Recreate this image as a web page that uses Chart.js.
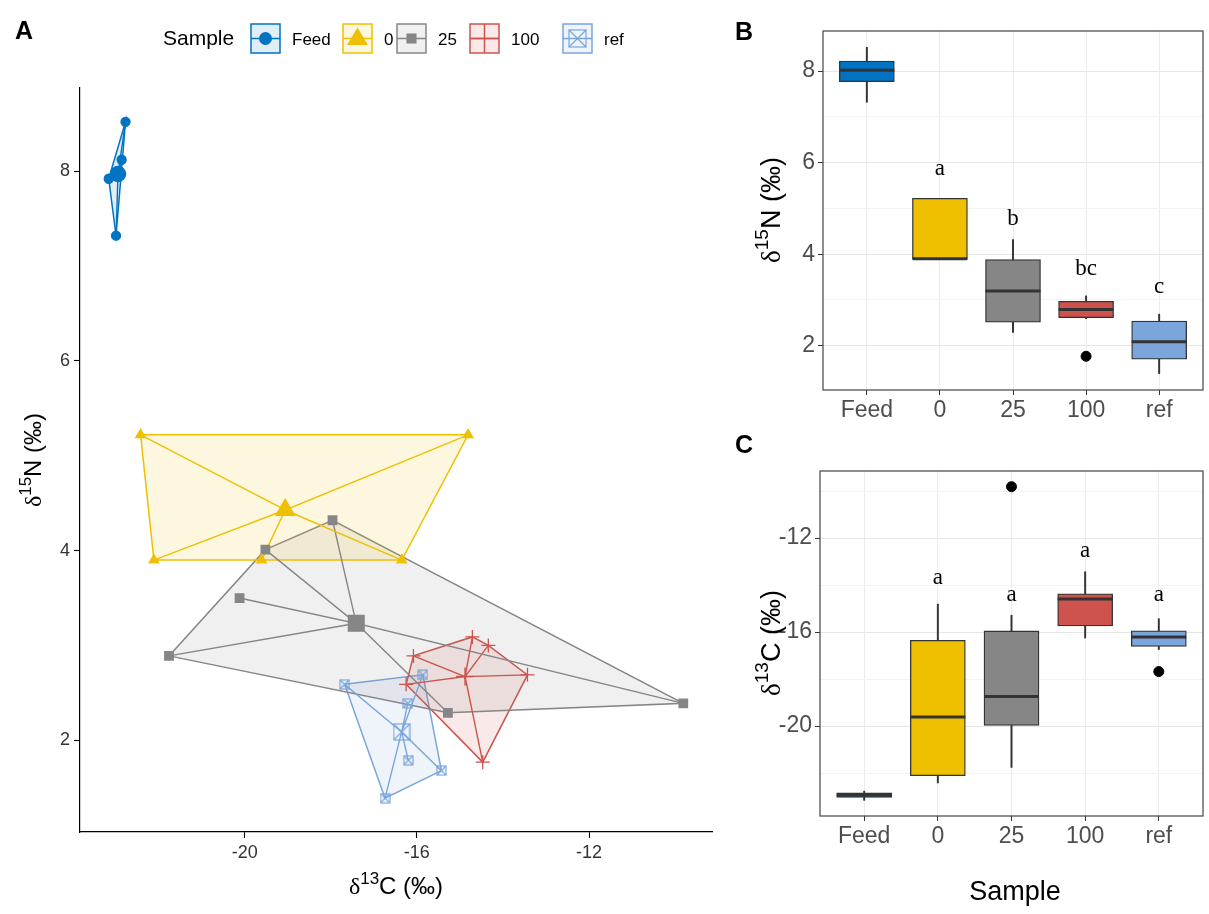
<!DOCTYPE html>
<html>
<head>
<meta charset="utf-8">
<script src="https://cdn.jsdelivr.net/npm/chart.js@4.4.1/dist/chart.umd.min.js"></script>
<style>
body { margin: 0; background: #fff; width: 1209px; height: 914px; position: relative; overflow: hidden; font-family: "Liberation Sans", Arial, sans-serif; }
.panel { position: absolute; }
.tag { position: absolute; font-weight: bold; font-size: 25px; color: #000; line-height: 1; }
</style>
</head>
<body>
<div class="panel" style="left:0;top:0;width:730px;height:914px"><canvas id="chartA"></canvas></div>
<div class="panel" style="left:740px;top:0;width:469px;height:430px"><canvas id="chartB"></canvas></div>
<div class="panel" style="left:740px;top:430px;width:469px;height:484px"><canvas id="chartC"></canvas></div>
<div class="tag" style="left:15px;top:18px">A</div>
<div class="tag" style="left:735px;top:19px">B</div>
<div class="tag" style="left:735px;top:432px">C</div>
<script>
// groups and colours
const groups = ['Feed', '0', '25', '100', 'ref'];
const palette = ['#0073C2', '#EFC000', '#868686', '#CD534C', '#7AA6DC'];

// d13C / d15N of each sample
const feedC13 = [-22.77, -22.86, -23.16, -22.99];
const feedN15 = [8.52, 8.12, 7.92, 7.32];
const zeroC13 = [-22.42, -22.11, -19.61, -16.35, -14.81];
const zeroN15 = [5.22, 3.90, 3.90, 3.90, 5.22];
const c25C13 = [-17.96, -19.52, -20.12, -21.76, -15.28, -9.81];
const c25N15 = [4.32, 4.01, 3.50, 2.89, 2.29, 2.39];
const c100C13 = [-14.71, -14.34, -16.08, -13.43, -16.25, -14.47];
const c100N15 = [3.09, 3.00, 2.89, 2.69, 2.59, 1.77];
const refC13 = [-17.68, -15.86, -16.21, -16.20, -15.43, -16.74];
const refN15 = [2.59, 2.69, 2.39, 1.79, 1.68, 1.39];

const c13 = [feedC13, zeroC13, c25C13, c100C13, refC13];
const n15 = [feedN15, zeroN15, c25N15, c100N15, refN15];

// ticks
const ticksC13A = [-20, -16, -12];
const ticksN15A = [2, 4, 6, 8];
const majorN15B = [2, 4, 6, 8];
const minorN15B = [3, 5, 7];
const majorC13C = [-20, -16, -12];
const minorC13C = [-22, -18, -14, -10];

// significance letters (text and the value they sit at)
const lettersN15 = ['', 'a', 'b', 'bc', 'c'];
const lettersN15At = [null, 5.86, 4.78, 3.68, 3.28];
const lettersC13 = ['', 'a', 'a', 'a', 'a'];
const lettersC13At = [null, -13.7, -14.41, -12.54, -14.41];

const sans = '"Liberation Sans", Arial, sans-serif';
const serif = '"Liberation Serif", "Times New Roman", serif';
Chart.defaults.font.family = sans;

function fade(hex, a) {
  const n = parseInt(hex.slice(1), 16);
  return `rgba(${n >> 16},${(n >> 8) & 255},${n & 255},${a})`;
}
const mean = v => v.reduce((s, x) => s + x, 0) / v.length;

function padRange(values) {
  const lo = Math.min(...values), hi = Math.max(...values);
  const r = hi - lo;
  return [lo - 0.05 * r, hi + 0.05 * r];
}

// monotone chain hull
function convexHull(pts) {
  const p = pts.slice().sort((a, b) => a.x - b.x || a.y - b.y);
  const cross = (o, a, b) => (a.x - o.x) * (b.y - o.y) - (a.y - o.y) * (b.x - o.x);
  const lower = [], upper = [];
  for (const q of p) {
    while (lower.length >= 2 && cross(lower[lower.length - 2], lower[lower.length - 1], q) <= 0) lower.pop();
    lower.push(q);
  }
  for (let i = p.length - 1; i >= 0; i--) {
    const q = p[i];
    while (upper.length >= 2 && cross(upper[upper.length - 2], upper[upper.length - 1], q) <= 0) upper.pop();
    upper.push(q);
  }
  upper.pop(); lower.pop();
  return lower.concat(upper);
}

// quantile type 7 + tukey whiskers, like ggplot
function quant(s, p) {
  const h = (s.length - 1) * p, lo = Math.floor(h);
  const next = s[Math.min(lo + 1, s.length - 1)];
  return s[lo] + (h - lo) * (next - s[lo]);
}
function boxStats(values) {
  const s = values.slice().sort((a, b) => a - b);
  const q1 = quant(s, 0.25), med = quant(s, 0.5), q3 = quant(s, 0.75);
  const iqr = q3 - q1;
  const inside = s.filter(v => v >= q1 - 1.5 * iqr && v <= q3 + 1.5 * iqr);
  return {
    q1, med, q3,
    lo: Math.min(...inside), hi: Math.max(...inside),
    out: s.filter(v => v < q1 - 1.5 * iqr || v > q3 + 1.5 * iqr)
  };
}

function squareCross(size, color) {
  const c = document.createElement('canvas');
  c.width = c.height = size + 2;
  const g = c.getContext('2d');
  g.strokeStyle = color;
  g.lineWidth = 1.2;
  g.strokeRect(1, 1, size, size);
  g.beginPath();
  g.moveTo(1, 1); g.lineTo(size + 1, size + 1);
  g.moveTo(size + 1, 1); g.lineTo(1, size + 1);
  g.stroke();
  return c;
}

// δ^13C (‰) style title
function richTitle(ctx, x, y, rotate, mass, el, size) {
  const parts = [
    {t: 'δ', f: `${size}px ${serif}`, dy: 0},
    {t: mass, f: `${Math.round(size * 0.72)}px ${sans}`, dy: -size * 0.42},
    {t: el + ' (‰)', f: `${size}px ${sans}`, dy: 0}
  ];
  ctx.save();
  ctx.translate(x, y);
  if (rotate) ctx.rotate(-Math.PI / 2);
  ctx.fillStyle = '#000';
  ctx.textBaseline = 'alphabetic';
  let w = 0;
  parts.forEach(p => { ctx.font = p.f; p.w = ctx.measureText(p.t).width; w += p.w; });
  let cx = -w / 2;
  parts.forEach(p => { ctx.font = p.f; ctx.fillText(p.t, cx, size * 0.36 + p.dy); cx += p.w; });
  ctx.restore();
}

// ---------- panel A ----------
const shapeA = ['circle', 'triangle', 'rect', 'cross', squareCross(9, palette[4])];
const radiusA = [4.5, 5.5, 6, 7, 5];
const shapeCen = ['circle', 'triangle', 'rect', 'cross', squareCross(16, palette[4])];
const radiusCen = [7.5, 10.5, 11, 9, 8];

const dsA = [];
groups.forEach((g, i) => {
  const pts = c13[i].map((x, k) => ({x, y: n15[i][k]}));
  const cen = {x: mean(c13[i]), y: mean(n15[i])};
  const hull = convexHull(pts);
  dsA.push({type: 'line', data: hull.concat([hull[0]]), borderColor: palette[i], backgroundColor: fade(palette[i], 0.12),
    borderWidth: 1.5, fill: 'shape', pointRadius: 0, tension: 0, order: 4});
  dsA.push({type: 'line', data: pts.flatMap(p => [cen, p]), borderColor: palette[i], borderWidth: 1.4,
    fill: false, pointRadius: 0, tension: 0, order: 3});
  dsA.push({type: 'scatter', data: pts, pointStyle: shapeA[i], pointRadius: radiusA[i],
    backgroundColor: palette[i], borderColor: palette[i], borderWidth: 1.3, order: 2});
  dsA.push({type: 'scatter', data: [cen], pointStyle: shapeCen[i], pointRadius: radiusCen[i],
    backgroundColor: palette[i], borderColor: palette[i], borderWidth: 1.5, order: 1});
});

const rangeXA = padRange(c13.flat());
const rangeYA = padRange(n15.flat());

const keyX = [251, 343, 397, 470, 563];
const keyStyle = ['circle', 'triangle', 'rect', 'cross', squareCross(17, palette[4])];
const keyRadius = [6.5, 11, 7, 14.5, 9];

function marker(ctx, style, r, x, y) {
  if (typeof style !== 'string') { ctx.drawImage(style, x - style.width / 2, y - style.height / 2); return; }
  ctx.beginPath();
  if (style === 'circle') { ctx.arc(x, y, r, 0, Math.PI * 2); ctx.fill(); }
  else if (style === 'triangle') {
    ctx.moveTo(x, y - r); ctx.lineTo(x + r * 0.95, y + r * 0.6); ctx.lineTo(x - r * 0.95, y + r * 0.6); ctx.closePath(); ctx.fill();
  }
  else if (style === 'rect') { ctx.fillRect(x - r * 0.72, y - r * 0.72, r * 1.44, r * 1.44); }
  else if (style === 'cross') { ctx.moveTo(x - r, y); ctx.lineTo(x + r, y); ctx.moveTo(x, y - r); ctx.lineTo(x, y + r); ctx.stroke(); }
}

const decorA = {
  id: 'decorA',
  afterDraw(chart) {
    const ctx = chart.ctx;
    richTitle(ctx, 396, 885, false, '13', 'C', 24);
    richTitle(ctx, 32, 460, true, '15', 'N', 24);
    // legend
    ctx.save();
    ctx.fillStyle = '#000';
    ctx.textBaseline = 'middle';
    ctx.font = `21px ${sans}`;
    ctx.fillText('Sample', 163, 39);
    ctx.font = `17px ${sans}`;
    groups.forEach((g, i) => {
      const x = keyX[i], y = 24, s = 29;
      ctx.fillStyle = fade(palette[i], 0.12);
      ctx.fillRect(x, y, s, s);
      ctx.strokeStyle = palette[i];
      ctx.lineWidth = 1.5;
      ctx.strokeRect(x, y, s, s);
      ctx.beginPath(); ctx.moveTo(x, y + s / 2); ctx.lineTo(x + s, y + s / 2); ctx.stroke();
      ctx.fillStyle = palette[i];
      marker(ctx, keyStyle[i], keyRadius[i], x + s / 2, y + s / 2);
      ctx.fillStyle = '#000';
      ctx.fillText(g, x + s + 12, 40);
    });
    ctx.restore();
  }
};

new Chart(document.getElementById('chartA'), {
  type: 'scatter',
  data: {datasets: dsA},
  options: {
    responsive: true, maintainAspectRatio: false, animation: false,
    layout: {padding: {top: 88, right: 18, left: 0, bottom: 0}},
    plugins: {legend: {display: false}, tooltip: {enabled: false}},
    scales: {
      x: {
        type: 'linear', min: rangeXA[0], max: rangeXA[1],
        afterBuildTicks: s => { s.ticks = ticksC13A.map(v => ({value: v})); },
        afterFit: s => { s.height = 82; },
        grid: {drawOnChartArea: false, tickLength: 6, tickColor: '#000', tickWidth: 1.1},
        border: {color: '#000', width: 1.2},
        ticks: {font: {size: 18}, color: '#333', padding: 4, maxRotation: 0}
      },
      y: {
        type: 'linear', min: rangeYA[0], max: rangeYA[1],
        afterBuildTicks: s => { s.ticks = ticksN15A.map(v => ({value: v})); },
        afterFit: s => { s.width = 80; },
        grid: {drawOnChartArea: false, tickLength: 6, tickColor: '#000', tickWidth: 1.1},
        border: {color: '#000', width: 1.2},
        ticks: {font: {size: 18}, color: '#333', padding: 4}
      }
    }
  },
  plugins: [decorA]
});

// ---------- panels B and C ----------
function boxChart(id, values, major, minor, letters, lettersAt, pad, yWidth, xHeight, title) {
  const stats = values.map(boxStats);
  const range = padRange(values.flat());
  const decor = {
    id: 'decor' + id,
    afterDatasetsDraw(chart) {
      const ctx = chart.ctx, ys = chart.scales.y, xs = chart.scales.x, a = chart.chartArea;
      const boxes = chart.getDatasetMeta(2);
      ctx.save();
      ctx.strokeStyle = '#333';
      ctx.lineWidth = 3;
      boxes.data.forEach((bar, i) => {
        const py = ys.getPixelForValue(stats[i].med);
        ctx.beginPath(); ctx.moveTo(bar.x - bar.width / 2, py); ctx.lineTo(bar.x + bar.width / 2, py); ctx.stroke();
      });
      ctx.fillStyle = '#000';
      ctx.font = `23px ${serif}`;
      ctx.textAlign = 'center';
      ctx.textBaseline = 'middle';
      letters.forEach((t, i) => {
        if (t) ctx.fillText(t, xs.getPixelForValue(i + 1), ys.getPixelForValue(lettersAt[i]));
      });
      ctx.strokeStyle = '#444';
      ctx.lineWidth = 1.2;
      ctx.strokeRect(a.left, a.top, a.right - a.left, a.bottom - a.top);
      ctx.restore();
    },
    afterDraw(chart) { title(chart.ctx); }
  };
  const isMajor = v => major.includes(v);
  return new Chart(document.getElementById(id), {
    type: 'bar',
    data: {
      datasets: [
        {data: stats.map((s, i) => ({x: i + 1, y: [s.lo, s.q1]})), backgroundColor: '#333', barThickness: 1.3, grouped: false, order: 3},
        {data: stats.map((s, i) => ({x: i + 1, y: [s.q3, s.hi]})), backgroundColor: '#333', barThickness: 1.3, grouped: false, order: 3},
        {data: stats.map((s, i) => ({x: i + 1, y: [s.q1, s.q3]})), backgroundColor: palette, borderColor: '#333',
          borderWidth: 1.3, borderSkipped: false, barThickness: 55, grouped: false, order: 1},
        {type: 'scatter', data: stats.flatMap((s, i) => s.out.map(v => ({x: i + 1, y: v}))),
          pointRadius: 5, backgroundColor: '#000', borderColor: '#000', order: 0}
      ]
    },
    options: {
      responsive: true, maintainAspectRatio: false, animation: false,
      layout: {padding: pad},
      plugins: {legend: {display: false}, tooltip: {enabled: false}},
      scales: {
        x: {
          type: 'linear', min: 0.4, max: 5.6, offset: false,
          afterBuildTicks: s => { s.ticks = groups.map((g, i) => ({value: i + 1})); },
          afterFit: s => { s.height = xHeight; },
          grid: {color: '#ebebeb', tickColor: '#333', tickLength: 5, offset: false},
          border: {display: false},
          ticks: {font: {size: 23}, color: '#4d4d4d', padding: 2, maxRotation: 0, callback: v => groups[v - 1]}
        },
        y: {
          type: 'linear', min: range[0], max: range[1],
          afterBuildTicks: s => { s.ticks = major.concat(minor).sort((a, b) => a - b).map(v => ({value: v})); },
          afterFit: s => { s.width = yWidth; },
          grid: {
            color: c => isMajor(c.tick.value) ? '#e6e6e6' : '#f3f3f3',
            tickColor: c => isMajor(c.tick.value) ? '#333' : 'rgba(0,0,0,0)',
            tickLength: 5
          },
          border: {display: false},
          ticks: {font: {size: 23}, color: '#4d4d4d', padding: 3, callback: v => isMajor(v) ? v : ''}
        }
      }
    },
    plugins: [decor]
  });
}

boxChart('chartB', n15, majorN15B, minorN15B, lettersN15, lettersN15At,
  {top: 31, right: 2, left: 0, bottom: 0}, 83, 40,
  ctx => richTitle(ctx, 30, 210, true, '15', 'N', 27));

boxChart('chartC', c13, majorC13C, minorC13C, lettersC13, lettersC13At,
  {top: 41, right: 0, left: 0, bottom: 0}, 80, 98,
  ctx => {
    richTitle(ctx, 30, 213, true, '13', 'C', 27);
    ctx.save();
    ctx.fillStyle = '#000';
    ctx.font = `27px ${sans}`;
    ctx.textAlign = 'center';
    ctx.textBaseline = 'middle';
    ctx.fillText('Sample', 275, 463);
    ctx.restore();
  });
</script>
</body>
</html>
